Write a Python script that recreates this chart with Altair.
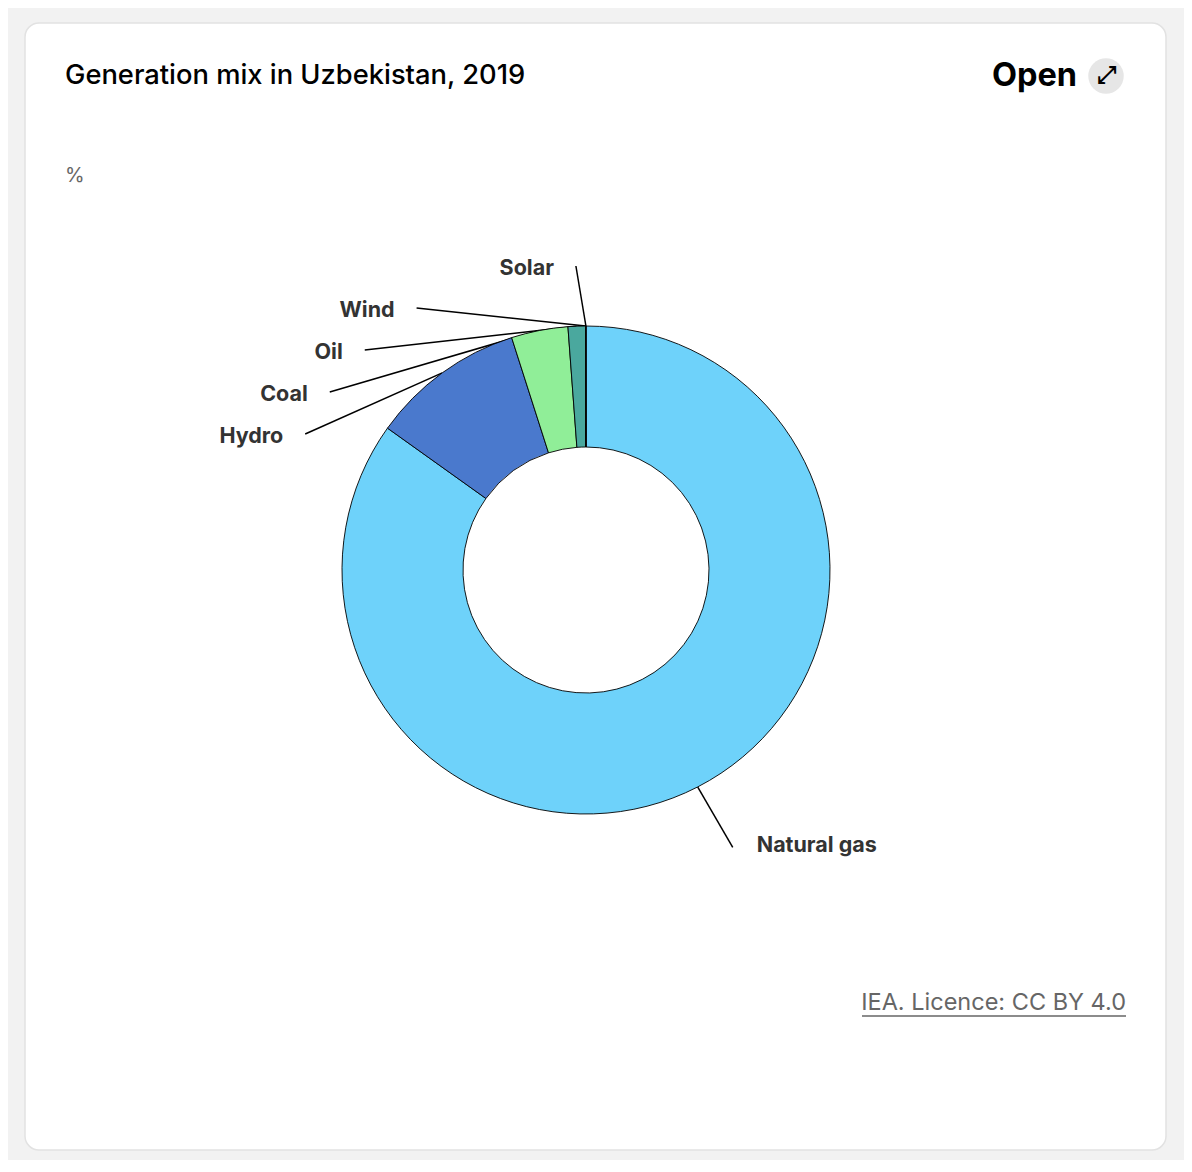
import math
import pandas as pd
import altair as alt

# ---- data ----
fuels = ["Natural gas", "Hydro", "Coal", "Oil", "Wind", "Solar"]
shares = [84.9, 10.2, 3.75, 1.15, 0.02, 0.01]
colors = ["#6ed2fa", "#4a79cd", "#90ee98", "#4aa89e", "#2b6f8f", "#f2c84b"]

title_text = "Generation mix in Uzbekistan, 2019"
unit_text = "%"
source_text = "IEA. Licence: CC BY 4.0"

# ---- layout (page pixel geometry) ----
W, H = 1176, 1152
OFF = 8
CX, CY = 586, 570
R_OUT, R_IN = 244, 123
R_LAB = 312
GAP = 42
PAD_L, PAD_R = 22, 24

total = sum(shares)
rows = []
cum = 0.0
for i, (f, s) in enumerate(zip(fuels, shares)):
    a0 = cum / total * 360
    cum += s
    a1 = cum / total * 360
    mid = math.radians((a0 + a1) / 2)
    rows.append(dict(
        fuel=f, share=s, order=i, mid=(a0 + a1) / 2,
        ex=CX + R_OUT * math.sin(mid), ey=CY - R_OUT * math.cos(mid),
        nx=CX + R_LAB * math.sin(mid), ny=CY - R_LAB * math.cos(mid),
        side="right" if (a0 + a1) / 2 < 180 else "left",
    ))

# spread labels on each side (top first)
y_top = CY - R_LAB + 8
y_bot = CY + R_LAB - 8
for side in ("left", "right"):
    grp = [r for r in rows if r["side"] == side]
    if side == "left":
        grp.sort(key=lambda r: -r["mid"])
    else:
        grp.sort(key=lambda r: r["mid"])
    prev = None
    for r in grp:
        y = max(r["ny"], y_top)
        if prev is not None:
            y = max(y, prev + GAP)
        y = min(y, y_bot)
        prev = y
        r["ay"] = y
        if y - r["ny"] > GAP / 2:
            dx = math.sqrt(max(R_LAB ** 2 - (y - CY) ** 2, 0))
            r["ax"] = CX - dx if side == "left" else CX + dx
        else:
            # label kept near its natural spot: nudge it slightly outward
            r["ax"] = r["nx"] - 10 if side == "left" else r["nx"] + 4
        r["tx"] = r["ax"] - PAD_L if side == "left" else r["ax"] + PAD_R
        r["ty"] = y + 3 if side == "left" else y - 1

df = pd.DataFrame(rows)

xs = alt.Scale(domain=[OFF, OFF + W], nice=False, zero=False)
ys = alt.Scale(domain=[OFF, OFF + H], nice=False, zero=False, reverse=True)

one = pd.DataFrame({"a": [0]})

card = alt.Chart(one).mark_rect(
    fill="white", stroke="#e2e2e2", strokeWidth=1.5, cornerRadius=14
).encode(x=alt.value(25 - OFF), x2=alt.value(1166 - OFF),
         y=alt.value(23 - OFF), y2=alt.value(1150 - OFF))

connectors = alt.Chart(df).mark_rule(color="black", strokeWidth=1.5).encode(
    x=alt.X("ax:Q", scale=xs, axis=None),
    y=alt.Y("ay:Q", scale=ys, axis=None),
    x2="ex:Q", y2="ey:Q",
)

arcs = alt.Chart(df).mark_arc(
    outerRadius=R_OUT, innerRadius=R_IN, stroke="black", strokeWidth=0.9
).encode(
    theta=alt.Theta("share:Q", stack=True),
    order=alt.Order("order:Q"),
    color=alt.Color("fuel:N", scale=alt.Scale(domain=fuels, range=colors), legend=None),
    x=alt.value(CX - OFF), y=alt.value(CY - OFF),
)

lab_style = dict(font="Inter", fontSize=21.5, fontWeight="bold", color="#333333", baseline="middle")
labels_left = alt.Chart(df).transform_filter(alt.datum.side == "left").mark_text(
    align="right", **lab_style
).encode(x=alt.X("tx:Q", scale=xs), y=alt.Y("ty:Q", scale=ys), text="fuel:N")
labels_right = alt.Chart(df).transform_filter(alt.datum.side == "right").mark_text(
    align="left", **lab_style
).encode(x=alt.X("tx:Q", scale=xs), y=alt.Y("ty:Q", scale=ys), text="fuel:N")

title = alt.Chart(one).mark_text(
    text=title_text, align="left", baseline="alphabetic", font="Inter",
    fontSize=27.3, fontWeight=500, color="black"
).encode(x=alt.value(65 - OFF), y=alt.value(84 - OFF))

unit = alt.Chart(one).mark_text(
    text=unit_text, align="left", baseline="middle", font="Inter",
    fontSize=20, color="#666666"
).encode(x=alt.value(65 - OFF), y=alt.value(176 - OFF))

open_txt = alt.Chart(one).mark_text(
    text="Open", align="right", baseline="middle", font="Inter",
    fontSize=32.5, fontWeight="bold", color="black"
).encode(x=alt.value(1077 - OFF), y=alt.value(76 - OFF))

open_circle = alt.Chart(one).mark_point(
    shape="circle", filled=True, size=1260, color="#e6e6e6", opacity=1
).encode(x=alt.value(1106 - OFF), y=alt.value(76 - OFF))

open_icon = alt.Chart(one).mark_text(
    text="⤢", align="center", baseline="middle", font="DejaVu Sans",
    fontSize=24, fontWeight="bold", color="black"
).encode(x=alt.value(1106 - OFF), y=alt.value(76 - OFF))

source = alt.Chart(one).mark_text(
    text=source_text, align="right", baseline="middle", font="Inter",
    fontSize=23.5, color="#666666"
).encode(x=alt.value(1126 - OFF), y=alt.value(1003 - OFF))

underline = alt.Chart(one).mark_rule(color="#666666", strokeWidth=1.5).encode(
    x=alt.value(862 - OFF), x2=alt.value(1126 - OFF), y=alt.value(1016 - OFF)
)

chart = alt.layer(
    card, connectors, arcs, labels_left, labels_right,
    title, unit, open_txt, open_circle, open_icon, source, underline
).properties(
    width=W, height=H, padding=0,
    autosize=alt.AutoSizeParams(type="none"),
).configure(background="#f2f2f2").configure_view(stroke=None)

chart.save("out.html", embed_options={"renderer": "svg", "actions": False})
